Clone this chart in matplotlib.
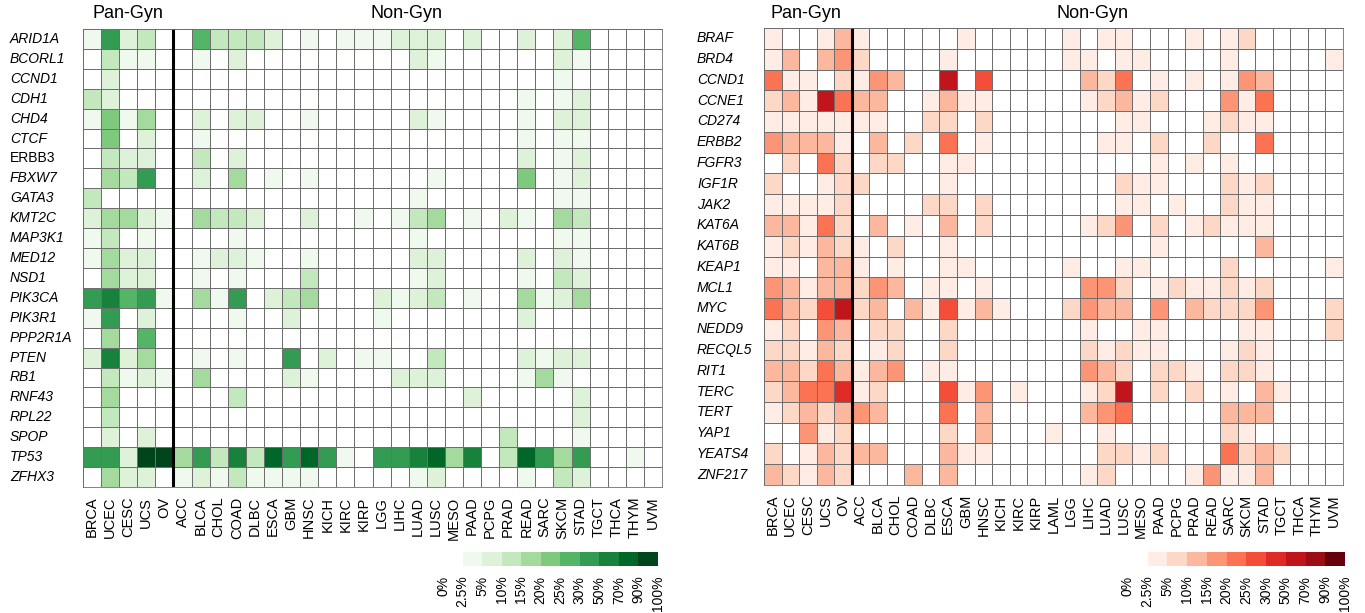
import numpy as np
import matplotlib
matplotlib.use("Agg")
import matplotlib.pyplot as plt
from matplotlib.colors import ListedColormap, BoundaryNorm
from matplotlib.transforms import blended_transform_factory

plt.rcParams["font.family"] = ["Liberation Sans", "DejaVu Sans"]

# percent bins of the colour key
bins = [0, 2.5, 5, 10, 15, 20, 25, 30, 50, 70, 90, 100]
bin_labels = ["0%", "2.5%", "5%", "10%", "15%", "20%", "25%", "30%",
              "50%", "70%", "90%", "100%"]

left_types = ["BRCA", "UCEC", "CESC", "UCS", "OV", "ACC", "BLCA", "CHOL", "COAD",
              "DLBC", "ESCA", "GBM", "HNSC", "KICH", "KIRC", "KIRP", "LGG", "LIHC",
              "LUAD", "LUSC", "MESO", "PAAD", "PCPG", "PRAD", "READ", "SARC", "SKCM",
              "STAD", "TGCT", "THCA", "THYM", "UVM"]
right_types = ["BRCA", "UCEC", "CESC", "UCS", "OV", "ACC", "BLCA", "CHOL", "COAD",
               "DLBC", "ESCA", "GBM", "HNSC", "KICH", "KIRC", "KIRP", "LAML", "LGG",
               "LIHC", "LUAD", "LUSC", "MESO", "PAAD", "PCPG", "PRAD", "READ", "SARC",
               "SKCM", "STAD", "TGCT", "THCA", "THYM", "UVM"]

# mutated genes (left, % of samples)
left_genes = ["ARID1A", "BCORL1", "CCND1", "CDH1", "CHD4", "CTCF", "ERBB3", "FBXW7",
              "GATA3", "KMT2C", "MAP3K1", "MED12", "NSD1", "PIK3CA", "PIK3R1",
              "PPP2R1A", "PTEN", "RB1", "RNF43", "RPL22", "SPOP", "TP53", "ZFHX3"]
left_pct = [
    [3, 40, 7, 12, 0, 0, 27, 12, 12, 12, 7, 0, 3, 0, 3, 3, 3, 7, 7, 7, 0, 7, 0, 0, 7, 0, 7, 27, 0, 0, 0, 0],
    [0, 12, 3, 3, 0, 0, 3, 0, 7, 0, 0, 0, 0, 0, 0, 0, 0, 0, 7, 3, 0, 0, 0, 0, 0, 0, 7, 3, 0, 0, 0, 0],
    [0, 7, 0, 0, 0, 0, 0, 0, 0, 0, 0, 0, 0, 0, 0, 0, 0, 0, 0, 0, 0, 0, 0, 0, 0, 0, 3, 0, 0, 0, 0, 0],
    [12, 7, 0, 0, 0, 0, 0, 0, 0, 0, 0, 0, 0, 0, 0, 0, 0, 0, 0, 0, 0, 0, 0, 0, 3, 0, 3, 7, 0, 0, 0, 0],
    [3, 22, 3, 17, 0, 0, 7, 0, 7, 7, 0, 0, 3, 0, 0, 0, 0, 0, 7, 3, 0, 0, 0, 0, 3, 0, 7, 7, 0, 0, 0, 0],
    [0, 22, 0, 7, 0, 0, 3, 0, 0, 0, 0, 0, 0, 0, 0, 0, 0, 0, 0, 0, 0, 0, 0, 0, 3, 0, 3, 3, 0, 0, 0, 0],
    [0, 12, 7, 7, 0, 0, 12, 0, 7, 0, 0, 0, 0, 0, 0, 0, 0, 0, 0, 0, 0, 0, 0, 0, 7, 0, 3, 7, 0, 0, 0, 0],
    [0, 17, 12, 40, 0, 0, 7, 0, 17, 0, 3, 0, 3, 0, 0, 0, 0, 0, 0, 3, 0, 0, 0, 0, 22, 0, 3, 7, 0, 0, 0, 0],
    [12, 0, 0, 0, 0, 0, 0, 0, 0, 0, 0, 0, 0, 0, 0, 0, 0, 0, 3, 0, 0, 0, 0, 0, 0, 0, 3, 3, 0, 0, 0, 0],
    [7, 17, 17, 7, 3, 0, 17, 12, 12, 7, 0, 0, 7, 0, 0, 3, 0, 3, 12, 17, 0, 3, 0, 7, 3, 0, 17, 12, 0, 0, 0, 0],
    [3, 12, 0, 3, 0, 0, 0, 0, 3, 0, 0, 0, 0, 0, 0, 0, 0, 0, 3, 0, 0, 0, 0, 0, 0, 0, 3, 3, 0, 0, 0, 0],
    [3, 17, 7, 7, 0, 0, 3, 7, 7, 3, 0, 0, 3, 0, 0, 0, 0, 0, 7, 7, 0, 0, 0, 0, 7, 0, 7, 3, 0, 0, 0, 0],
    [0, 17, 7, 7, 0, 0, 3, 0, 3, 0, 0, 0, 12, 0, 0, 0, 0, 0, 3, 7, 0, 0, 0, 0, 3, 0, 12, 7, 0, 0, 0, 0],
    [40, 60, 27, 40, 3, 0, 17, 3, 40, 0, 7, 12, 17, 0, 0, 0, 7, 3, 7, 12, 0, 3, 0, 0, 17, 3, 7, 17, 0, 0, 0, 0],
    [3, 40, 0, 7, 0, 0, 0, 0, 3, 0, 0, 7, 0, 0, 0, 0, 3, 0, 0, 0, 0, 0, 0, 0, 7, 0, 0, 0, 0, 0, 0, 0],
    [0, 17, 0, 27, 0, 0, 0, 0, 0, 0, 0, 0, 0, 0, 0, 0, 0, 0, 0, 0, 0, 0, 0, 0, 0, 0, 0, 0, 0, 0, 0, 0],
    [7, 60, 7, 17, 0, 0, 3, 0, 3, 0, 0, 40, 0, 7, 0, 3, 3, 0, 0, 12, 0, 0, 0, 0, 7, 3, 7, 7, 0, 0, 0, 0],
    [0, 12, 3, 7, 3, 0, 17, 0, 0, 0, 0, 7, 3, 0, 0, 0, 0, 7, 7, 7, 0, 0, 0, 0, 3, 17, 3, 0, 0, 0, 0, 0],
    [0, 17, 0, 0, 0, 0, 0, 0, 12, 0, 0, 0, 0, 0, 0, 0, 0, 0, 0, 0, 0, 7, 0, 0, 0, 0, 0, 7, 0, 0, 0, 0],
    [0, 12, 0, 0, 0, 0, 0, 0, 0, 0, 0, 0, 0, 0, 0, 0, 0, 0, 0, 0, 0, 0, 0, 0, 0, 0, 0, 7, 0, 0, 0, 0],
    [0, 7, 0, 7, 0, 0, 0, 0, 0, 0, 0, 0, 0, 0, 0, 0, 0, 0, 0, 0, 0, 0, 0, 12, 0, 0, 0, 3, 0, 0, 0, 0],
    [40, 40, 7, 95, 95, 17, 40, 12, 60, 12, 80, 40, 80, 40, 3, 0, 40, 40, 60, 80, 17, 60, 0, 12, 80, 40, 17, 40, 0, 0, 3, 0],
    [0, 17, 7, 7, 0, 3, 7, 3, 12, 3, 3, 3, 3, 0, 0, 0, 0, 0, 3, 7, 0, 0, 0, 0, 3, 0, 12, 7, 0, 0, 0, 0],
]

# amplified genes (right, % of samples)
right_genes = ["BRAF", "BRD4", "CCND1", "CCNE1", "CD274", "ERBB2", "FGFR3", "IGF1R",
               "JAK2", "KAT6A", "KAT6B", "KEAP1", "MCL1", "MYC", "NEDD9", "RECQL5",
               "RIT1", "TERC", "TERT", "YAP1", "YEATS4", "ZNF217"]
right_pct = [
    [3, 0, 0, 3, 12, 3, 0, 0, 0, 0, 0, 3, 0, 0, 0, 0, 0, 3, 0, 3, 3, 0, 0, 0, 3, 0, 3, 7, 0, 0, 0, 0, 0],
    [3, 12, 0, 12, 17, 7, 0, 0, 0, 0, 3, 0, 0, 0, 0, 0, 0, 3, 3, 0, 3, 3, 0, 0, 0, 0, 3, 0, 0, 0, 0, 0, 3],
    [22, 3, 3, 0, 7, 3, 17, 12, 0, 0, 60, 0, 27, 0, 0, 0, 0, 0, 12, 7, 22, 0, 3, 0, 3, 0, 3, 17, 12, 0, 0, 0, 0],
    [7, 12, 3, 60, 22, 12, 12, 0, 0, 3, 12, 3, 3, 0, 0, 0, 0, 0, 3, 7, 12, 3, 7, 0, 0, 0, 17, 3, 22, 0, 0, 0, 0],
    [3, 3, 3, 3, 3, 3, 3, 0, 0, 7, 7, 0, 7, 0, 0, 0, 0, 0, 0, 0, 3, 3, 0, 0, 0, 3, 7, 3, 3, 0, 0, 0, 0],
    [17, 12, 12, 12, 3, 0, 12, 0, 7, 0, 22, 0, 3, 0, 0, 0, 0, 0, 0, 3, 3, 0, 7, 0, 0, 7, 0, 0, 22, 0, 0, 0, 0],
    [0, 7, 0, 22, 7, 0, 7, 7, 0, 0, 3, 3, 0, 0, 0, 0, 0, 0, 0, 0, 0, 0, 3, 0, 3, 0, 3, 0, 0, 0, 0, 0, 0],
    [7, 0, 0, 3, 7, 7, 0, 0, 0, 0, 3, 0, 0, 0, 0, 0, 0, 0, 0, 0, 7, 3, 3, 0, 0, 0, 7, 3, 7, 0, 0, 0, 0],
    [3, 3, 3, 3, 7, 0, 0, 0, 0, 7, 7, 0, 7, 0, 0, 0, 0, 0, 0, 0, 3, 3, 0, 3, 0, 0, 7, 3, 3, 0, 0, 0, 0],
    [12, 12, 3, 22, 7, 0, 12, 0, 3, 0, 12, 0, 7, 0, 0, 0, 0, 0, 3, 7, 17, 0, 7, 0, 3, 7, 3, 3, 3, 0, 0, 0, 0],
    [3, 7, 3, 12, 7, 3, 0, 7, 0, 0, 3, 0, 0, 0, 0, 0, 0, 0, 0, 0, 0, 0, 3, 0, 0, 0, 0, 0, 12, 0, 0, 0, 0],
    [3, 3, 0, 12, 12, 3, 0, 3, 0, 0, 3, 3, 0, 0, 0, 0, 0, 3, 0, 0, 3, 3, 0, 0, 0, 0, 7, 0, 0, 0, 0, 0, 3],
    [17, 12, 3, 12, 12, 7, 17, 12, 0, 3, 3, 0, 3, 0, 0, 0, 0, 0, 17, 17, 7, 0, 3, 7, 3, 3, 7, 3, 7, 0, 0, 0, 0],
    [22, 12, 7, 27, 60, 7, 12, 0, 12, 3, 27, 3, 12, 3, 0, 0, 0, 7, 17, 12, 12, 0, 17, 0, 12, 7, 7, 7, 17, 0, 0, 0, 7],
    [3, 7, 0, 17, 12, 0, 7, 7, 0, 0, 7, 0, 0, 0, 0, 0, 0, 0, 3, 0, 0, 3, 3, 0, 0, 0, 0, 3, 3, 0, 0, 0, 7],
    [7, 7, 3, 12, 7, 0, 3, 7, 0, 0, 7, 0, 0, 0, 0, 0, 0, 0, 7, 3, 7, 3, 3, 0, 0, 0, 3, 7, 3, 0, 0, 0, 0],
    [12, 12, 7, 22, 12, 3, 12, 17, 0, 3, 3, 0, 0, 0, 0, 0, 0, 0, 17, 12, 7, 0, 7, 7, 3, 0, 7, 7, 3, 0, 0, 0, 0],
    [7, 12, 22, 22, 40, 3, 7, 0, 0, 0, 27, 3, 17, 0, 3, 0, 0, 0, 3, 7, 60, 0, 7, 0, 7, 0, 3, 0, 12, 3, 0, 0, 0],
    [3, 7, 12, 7, 12, 17, 12, 0, 0, 0, 22, 0, 12, 0, 0, 0, 0, 0, 12, 17, 22, 0, 0, 0, 0, 0, 12, 12, 12, 0, 0, 0, 0],
    [0, 0, 17, 3, 7, 0, 0, 0, 0, 0, 7, 0, 12, 0, 0, 0, 3, 0, 0, 3, 0, 0, 0, 0, 0, 0, 7, 3, 0, 0, 0, 0, 0],
    [7, 0, 3, 12, 7, 12, 12, 0, 0, 0, 12, 3, 3, 0, 0, 0, 0, 0, 0, 7, 7, 3, 7, 0, 0, 0, 22, 7, 12, 7, 0, 0, 0],
    [12, 7, 3, 12, 7, 0, 0, 0, 12, 0, 12, 0, 0, 0, 0, 0, 0, 0, 3, 7, 0, 0, 0, 0, 3, 17, 3, 3, 12, 0, 0, 0, 0],
]

n_gyn = 5  # BRCA, UCEC, CESC, UCS, OV
upright = {"ERBB3"}
grid_col = "#6e6e6e"

W, H = 1365, 613


def px(x0, y0, x1, y1):
    """Pixel box (from top-left) -> figure fraction rect."""
    return [x0 / W, 1 - y1 / H, (x1 - x0) / W, (y1 - y0) / H]


def make_cmap(name):
    cols = plt.get_cmap(name)(np.linspace(0.05, 1.0, 10))
    cmap = ListedColormap(["white"] + [tuple(c) for c in cols])
    return cmap, BoundaryNorm(bins, cmap.N)


def draw_heatmap(fig, rect, genes, types, pct, cmap, norm, label_x, head_x):
    ax = fig.add_axes(rect)
    data = np.array(pct, dtype=float)
    ax.pcolormesh(np.arange(len(types) + 1), np.arange(len(genes) + 1), data,
                  cmap=cmap, norm=norm, edgecolors=grid_col, linewidth=0.55)
    ax.set_xlim(0, len(types))
    ax.set_ylim(len(genes), 0)
    ax.axvline(n_gyn, color="black", linewidth=2.2)
    for s in ax.spines.values():
        s.set_edgecolor(grid_col)
        s.set_linewidth(0.6)

    ax.set_xticks(np.arange(len(types)) + 0.5)
    ax.set_xticklabels(types, rotation=90, fontsize=10.5)
    ax.tick_params(axis="x", length=0, pad=7)
    ax.set_yticks([])

    # gene names, left-aligned at a fixed pixel column
    tr = blended_transform_factory(fig.transFigure, ax.transData)
    for i, g in enumerate(genes):
        ax.text(label_x / W, i + 0.5, g, transform=tr, ha="left", va="center",
                fontsize=10, style="normal" if g in upright else "italic")

    fig.text(head_x[0] / W, 1 - 14 / H, "Pan-Gyn", fontsize=13, ha="center", va="center")
    fig.text(head_x[1] / W, 1 - 14 / H, "Non-Gyn", fontsize=13, ha="center", va="center")
    return ax


def draw_key(fig, rect, cmap, norm):
    ax = fig.add_axes(rect)
    mids = [(bins[i] + bins[i + 1]) / 2 for i in range(len(bins) - 1)]
    ax.pcolormesh(np.arange(len(mids) + 1), [0, 1], np.array([mids]),
                  cmap=cmap, norm=norm, edgecolors="none")
    ax.set_xlim(0, len(mids))
    ax.set_ylim(0, 1)
    ax.set_yticks([])
    ax.set_xticks(np.arange(len(bin_labels)))
    ax.set_xticklabels(bin_labels, rotation=90, fontsize=10)
    ax.tick_params(axis="x", length=0, pad=7)
    for s in ax.spines.values():
        s.set_visible(False)
    return ax


fig = plt.figure(figsize=(W / 100, H / 100), dpi=100)

g_cmap, g_norm = make_cmap("Greens")
r_cmap, r_norm = make_cmap("Reds")

draw_heatmap(fig, px(83, 29, 662, 487), left_genes, left_types, left_pct,
             g_cmap, g_norm, 10, (128, 407))
draw_heatmap(fig, px(764, 28, 1343, 485), right_genes, right_types, right_pct,
             r_cmap, r_norm, 697, (806, 1093))

draw_key(fig, px(443, 552, 658, 566), g_cmap, g_norm)
draw_key(fig, px(1128, 552, 1345, 566), r_cmap, r_norm)

fig.savefig("out.png", dpi=100)
